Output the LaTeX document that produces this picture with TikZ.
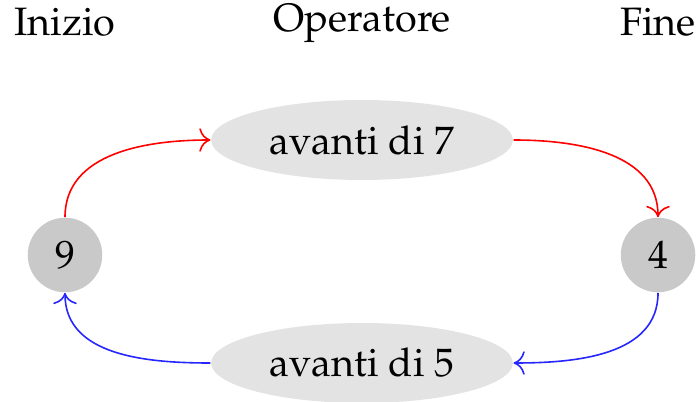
\documentclass[tikz,border=0pt]{standalone}
\usepackage[T1]{fontenc}
\usepackage{mathpazo}
\usetikzlibrary{arrows.meta, shapes.geometric}

\begin{document}
\begin{tikzpicture}[
    x=0.011cm, y=-0.011cm,
    font=\fontsize{12.4}{15}\selectfont,
    >={To[scale=1.3]},
    valnode/.style={circle, fill=black!21, minimum size=0.82cm, inner sep=0pt},
    opnode/.style={ellipse, fill=black!11, minimum width=3.32cm,
                   minimum height=0.88cm, inner sep=0pt},
    head/.style={anchor=base},
    fwd/.style={->, red, line width=0.5pt},
    back/.style={->, blue!85, line width=0.5pt}
  ]
  \useasboundingbox (0,0) rectangle (700,402);

  % column titles
  \node[head] (inizio) at (65,36) {Inizio};
  \node[head] (oper) at (362,32) {Operatore};
  \node[head] (fine) at (658,36) {Fine};

  % states and operators
  \node[valnode] (nove) at (65,255) {9};
  \node[valnode] (quattro) at (658,255) {4};
  \node[opnode] (av7) at (362,140) {avanti di 7};
  \node[opnode] (av5) at (362,363) {avanti di 5};

  \draw[fwd] (nove.north) to[out=90, in=180] (av7.west);
  \draw[fwd] (av7.east) to[out=0, in=90] (quattro.north);
  \draw[back] (quattro.south) to[out=-90, in=0] (av5.east);
  \draw[back] (av5.west) to[out=180, in=-90] (nove.south);
\end{tikzpicture}
\end{document}
